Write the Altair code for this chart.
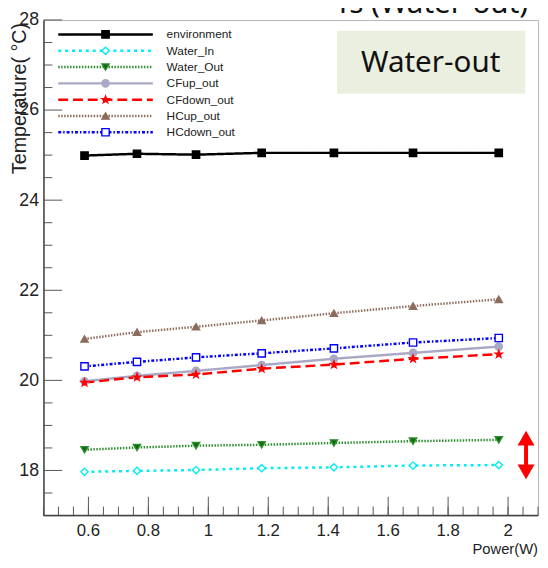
import altair as alt
import pandas as pd

# ---- data ----
power = [0.587, 0.762, 0.959, 1.178, 1.419, 1.683, 1.969]
series_names = ["environment", "Water_In", "Water_Out", "CFup_out", "CFdown_out", "HCup_out", "HCdown_out"]
environment = [24.99, 25.03, 25.01, 25.05, 25.05, 25.05, 25.05]
water_in = [17.97, 17.99, 18.01, 18.05, 18.07, 18.11, 18.12]
water_out = [18.46, 18.51, 18.55, 18.57, 18.61, 18.65, 18.68]
cfup_out = [19.98, 20.10, 20.21, 20.34, 20.48, 20.61, 20.75]
cfdown_out = [19.95, 20.07, 20.13, 20.26, 20.35, 20.48, 20.58]
hcup_out = [20.92, 21.07, 21.19, 21.33, 21.49, 21.65, 21.80]
hcdown_out = [20.31, 20.41, 20.51, 20.60, 20.71, 20.84, 20.94]
series_values = [environment, water_in, water_out, cfup_out, cfdown_out, hcup_out, hcdown_out]

x_labels = [0.6, 0.8, 1.0, 1.2, 1.4, 1.6, 1.8, 2.0]
x_label_text = ["0.6", "0.8", "1", "1.2", "1.4", "1.6", "1.8", "2"]
y_labels = [18, 20, 22, 24, 26, 28]
x_minor = [round(0.45 + 0.05 * i, 2) for i in range(34)]
y_minor = [17.5, 18.5, 19, 19.5, 20.5, 21, 21.5, 22.5, 23, 23.5, 24.5, 25, 25.5, 26.5, 27, 27.5]

arrow_x = [2.06]
arrow_top = [18.72]
arrow_bottom = [17.97]

box_label = ["Water-out"]
cut_title = ["Ts (Water-out)"]
x_title = ["Power(W)"]
y_title = ["Temperature( \u00b0C)"]

# ---- styles ----
STAR = "M0,-1L0.24,-0.33L0.95,-0.31L0.38,0.12L0.59,0.81L0,0.4L-0.59,0.81L-0.38,0.12L-0.95,-0.31L-0.24,-0.33Z"
line_colors = ["#000000", "#00eeee", "#2f8f2f", "#a9a9c6", "#ff0000", "#8e6e5e", "#0000ff"]
fill_colors = ["#000000", "#ffffff", "#0a6a0a", "#a9a9c6", "#ff0000", "#8b6b5b", "#ffffff"]
dashes = [[1, 0], [3, 4], [1.5, 1.5], [1, 0], [10, 5], [1.5, 1.5], [3, 2, 1.5, 2]]
shapes = ["square", "diamond", "triangle-down", "circle", STAR, "triangle-up", "square"]
NARROW = "Liberation Sans Narrow, Liberation Sans, Arial, sans-serif"

W, H = 502, 503

rows = []
for name, vals in zip(series_names, series_values):
    for p, v in zip(power, vals):
        rows.append({"series": name, "power": p, "temp": v})
df = pd.DataFrame(rows)
legend_df = pd.DataFrame({"series": series_names})

xs = alt.Scale(domain=[0.45, 2.1], nice=False, zero=False)
ys = alt.Scale(domain=[17, 28], nice=False, zero=False)
leg_y = alt.Scale(type="point", domain=series_names, range=[14.7, 114], padding=0)

color_enc = alt.Color("series:N", scale=alt.Scale(domain=series_names, range=line_colors), legend=None)
stroke_enc = alt.Stroke("series:N", scale=alt.Scale(domain=series_names, range=line_colors), legend=None)
fill_enc = alt.Fill("series:N", scale=alt.Scale(domain=series_names, range=fill_colors), legend=None)
dash_enc = alt.StrokeDash("series:N", scale=alt.Scale(domain=series_names, range=dashes), legend=None)
shape_enc = alt.Shape("series:N", scale=alt.Scale(domain=series_names, range=shapes), legend=None)

y_axis = alt.Axis(orient="left", values=y_labels, format="~g", ticks=False, grid=False,
                  domainColor="#444444", domainWidth=1.5,
                  labelFont=NARROW, labelFontSize=18, labelColor="#222222", labelPadding=5,
                  title=None)

lines = alt.Chart(df).mark_line(strokeWidth=2.5).encode(
    x=alt.X("power:Q", scale=xs, axis=None),
    y=alt.Y("temp:Q", scale=ys, axis=y_axis),
    color=color_enc, strokeDash=dash_enc,
)
points = alt.Chart(df).mark_point(filled=True, opacity=1, size=55, strokeWidth=1.4).encode(
    x=alt.X("power:Q", scale=xs, axis=None),
    y=alt.Y("temp:Q", scale=ys, axis=None),
    fill=fill_enc, stroke=stroke_enc, shape=shape_enc,
)

# bottom axis line, inward ticks and tick labels
x_domain = alt.Chart(pd.DataFrame({"power": [0.45], "end": [2.1]})).mark_rule(
    color="#444444", strokeWidth=1.5).encode(
    x=alt.X("power:Q", scale=xs, axis=None), x2="end:Q", y=alt.value(H))
ytick_major = alt.Chart(pd.DataFrame({"v": y_labels})).mark_rule(color="#555555", strokeWidth=1).encode(
    y=alt.Y("v:Q", scale=ys, axis=None), x=alt.value(0), x2=alt.value(19))
ytick_minor = alt.Chart(pd.DataFrame({"v": y_minor})).mark_rule(color="#555555", strokeWidth=1).encode(
    y=alt.Y("v:Q", scale=ys, axis=None), x=alt.value(0), x2=alt.value(9))
xtick_major = alt.Chart(pd.DataFrame({"power": x_labels})).mark_rule(color="#555555", strokeWidth=1).encode(
    x=alt.X("power:Q", scale=xs, axis=None), y=alt.value(H), y2=alt.value(H - 19))
xtick_minor = alt.Chart(pd.DataFrame({"power": x_minor})).mark_rule(color="#555555", strokeWidth=1).encode(
    x=alt.X("power:Q", scale=xs, axis=None), y=alt.value(H), y2=alt.value(H - 9))
xtick_text = alt.Chart(pd.DataFrame({"power": x_labels, "lab": x_label_text})).mark_text(
    font=NARROW, fontSize=17, color="#222222", align="center", baseline="top").encode(
    x=alt.X("power:Q", scale=xs, axis=None), y=alt.value(H + 8), text="lab:N")
xtitle = alt.Chart(pd.DataFrame({"t": x_title})).mark_text(
    font=NARROW, fontSize=15, color="#222222", align="right", baseline="top").encode(
    x=alt.value(W), y=alt.value(H + 27), text="t:N")

# legend
leg_lines = alt.Chart(legend_df).mark_rule(strokeWidth=2.5).encode(
    x=alt.value(15), x2=alt.value(111),
    y=alt.Y("series:N", scale=leg_y, axis=None),
    color=color_enc, strokeDash=dash_enc)
leg_pts = alt.Chart(legend_df).mark_point(filled=True, opacity=1, size=55, strokeWidth=1.4).encode(
    x=alt.value(63), y=alt.Y("series:N", scale=leg_y, axis=None),
    fill=fill_enc, stroke=stroke_enc, shape=shape_enc)
leg_text = alt.Chart(legend_df).mark_text(align="left", baseline="middle", font=NARROW,
                                          fontSize=12, color="#222222").encode(
    x=alt.value(125), y=alt.Y("series:N", scale=leg_y, axis=None), text="series:N")

# y title
ytitle = alt.Chart(pd.DataFrame({"t": y_title})).mark_text(
    angle=270, align="right", baseline="middle", font="Liberation Sans", fontSize=20,
    color="#222222").encode(x=alt.value(-24), y=alt.value(3), text="t:N")

# red double arrow
arrow_df = pd.DataFrame({"power": arrow_x, "top": arrow_top, "bottom": arrow_bottom})
arrow_shaft = alt.Chart(arrow_df).mark_rule(color="#ff0000", strokeWidth=4).encode(
    x=alt.X("power:Q", scale=xs, axis=None),
    y=alt.Y("top:Q", scale=ys, axis=None), y2="bottom:Q")
arrow_up = alt.Chart(arrow_df).mark_point(shape="triangle-up", filled=True, opacity=1,
                                         size=300, color="#ff0000").encode(
    x=alt.X("power:Q", scale=xs, axis=None), y=alt.Y("top:Q", scale=ys, axis=None))
arrow_down = alt.Chart(arrow_df).mark_point(shape="triangle-down", filled=True, opacity=1,
                                           size=300, color="#ff0000").encode(
    x=alt.X("power:Q", scale=xs, axis=None), y=alt.Y("bottom:Q", scale=ys, axis=None))

# annotation box
box_df = pd.DataFrame({"t": box_label})
box = alt.Chart(box_df).mark_rect(fill="#ebefdf").encode(
    x=alt.value(298), x2=alt.value(489), y=alt.value(11), y2=alt.value(75))
box_text = alt.Chart(box_df).mark_text(font="Noto Sans", fontSize=30, color="#111111",
                                       align="center", baseline="middle").encode(
    x=alt.value(393), y=alt.value(44), text="t:N")
top_text = alt.Chart(pd.DataFrame({"t": cut_title})).mark_text(
    font="Noto Sans", fontSize=30, color="#111111", align="right", baseline="alphabetic").encode(
    x=alt.value(492), y=alt.value(-7), text="t:N")

chart = alt.layer(
    lines,
    box, box_text, top_text,
    ytick_minor, ytick_major, xtick_minor, xtick_major, x_domain, xtick_text, xtitle,
    points,
    leg_lines, leg_pts, leg_text,
    ytitle, arrow_shaft, arrow_up, arrow_down,
).resolve_scale(y="independent").properties(
    width=W, height=H,
    autosize=alt.AutoSizeParams(type="none"),
    padding={"left": 36, "top": 8, "right": 2, "bottom": 41},
).configure_view(stroke="#b5b5b5", strokeWidth=1)

chart.save("out.html", embed_options={"renderer": "svg", "actions": False})
